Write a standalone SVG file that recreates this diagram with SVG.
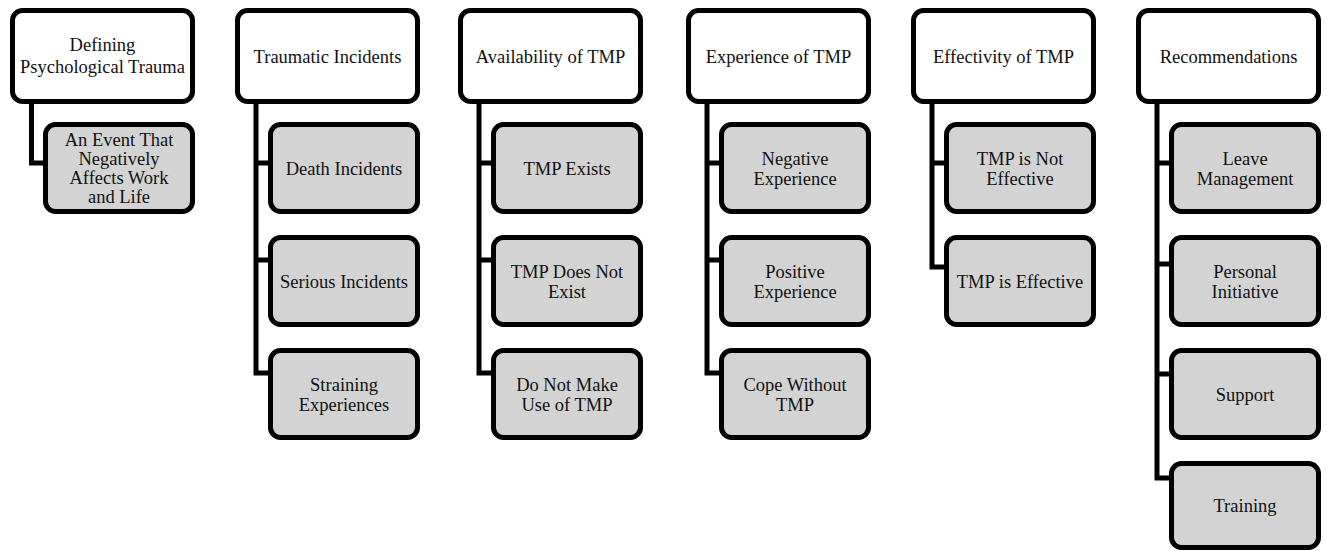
<svg xmlns="http://www.w3.org/2000/svg" width="1327" height="551" viewBox="0 0 1327 551">
<style>
.p{fill:#ffffff;stroke:#000;stroke-width:5}
.c{fill:#d3d3d3;stroke:#000;stroke-width:5}
.k{fill:none;stroke:#000;stroke-width:5;stroke-linejoin:miter;stroke-linecap:butt}
</style>
<rect width="1327" height="551" fill="#fff"/>
<g id="connectors">
<path class="k" d="M31.5,102 V163 H46"/>
<path class="k" d="M256,102 V373 H271 M256,163 H271 M256,260 H271"/>
<path class="k" d="M479,102 V373 H494 M479,163 H494 M479,260 H494"/>
<path class="k" d="M707,102 V373 H722 M707,163 H722 M707,260 H722"/>
<path class="k" d="M932,102 V267 H947 M932,163 H947"/>
<path class="k" d="M1157,102 V478 H1172 M1157,163 H1172 M1157,264 H1172 M1157,374 H1172"/>
</g>
<g font-family="Liberation Serif, Times New Roman, serif" font-size="18.5" fill="#111" text-anchor="middle">
<g id="n1"><rect class="p" x="12.5" y="10.5" width="180" height="91" rx="10"/><text x="102.5" y="51">Defining</text><text x="102.5" y="73">Psychological Trauma</text></g>
<g id="n1a"><rect class="c" x="45.5" y="124.5" width="147" height="87" rx="10"/><text x="119" y="146">An Event That</text><text x="119" y="165">Negatively</text><text x="119" y="184">Affects Work</text><text x="119" y="203">and Life</text></g>

<g id="n2"><rect class="p" x="237.5" y="10.5" width="180" height="91" rx="10"/><text x="327.5" y="63">Traumatic Incidents</text></g>
<g id="n2a"><rect class="c" x="270.5" y="124.5" width="147" height="87" rx="10"/><text x="344" y="175">Death Incidents</text></g>
<g id="n2b"><rect class="c" x="270.5" y="237.5" width="147" height="87" rx="10"/><text x="344" y="288">Serious Incidents</text></g>
<g id="n2c"><rect class="c" x="270.5" y="350.5" width="147" height="87" rx="10"/><text x="344" y="391">Straining</text><text x="344" y="411">Experiences</text></g>

<g id="n3"><rect class="p" x="460.5" y="10.5" width="180" height="91" rx="10"/><text x="550.5" y="63">Availability of TMP</text></g>
<g id="n3a"><rect class="c" x="493.5" y="124.5" width="147" height="87" rx="10"/><text x="567" y="175">TMP Exists</text></g>
<g id="n3b"><rect class="c" x="493.5" y="237.5" width="147" height="87" rx="10"/><text x="567" y="278">TMP Does Not</text><text x="567" y="298">Exist</text></g>
<g id="n3c"><rect class="c" x="493.5" y="350.5" width="147" height="87" rx="10"/><text x="567" y="391">Do Not Make</text><text x="567" y="411">Use of TMP</text></g>

<g id="n4"><rect class="p" x="688.5" y="10.5" width="180" height="91" rx="10"/><text x="778.5" y="63">Experience of TMP</text></g>
<g id="n4a"><rect class="c" x="721.5" y="124.5" width="147" height="87" rx="10"/><text x="795" y="165">Negative</text><text x="795" y="185">Experience</text></g>
<g id="n4b"><rect class="c" x="721.5" y="237.5" width="147" height="87" rx="10"/><text x="795" y="278">Positive</text><text x="795" y="298">Experience</text></g>
<g id="n4c"><rect class="c" x="721.5" y="350.5" width="147" height="87" rx="10"/><text x="795" y="391">Cope Without</text><text x="795" y="411">TMP</text></g>

<g id="n5"><rect class="p" x="913.5" y="10.5" width="180" height="91" rx="10"/><text x="1003.5" y="63">Effectivity of TMP</text></g>
<g id="n5a"><rect class="c" x="946.5" y="124.5" width="147" height="87" rx="10"/><text x="1020" y="165">TMP is Not</text><text x="1020" y="185">Effective</text></g>
<g id="n5b"><rect class="c" x="946.5" y="237.5" width="147" height="87" rx="10"/><text x="1020" y="288">TMP is Effective</text></g>

<g id="n6"><rect class="p" x="1138.5" y="10.5" width="180" height="91" rx="10"/><text x="1228.5" y="63">Recommendations</text></g>
<g id="n6a"><rect class="c" x="1171.5" y="124.5" width="147" height="87" rx="10"/><text x="1245" y="165">Leave</text><text x="1245" y="185">Management</text></g>
<g id="n6b"><rect class="c" x="1171.5" y="237.5" width="147" height="87" rx="10"/><text x="1245" y="278">Personal</text><text x="1245" y="298">Initiative</text></g>
<g id="n6c"><rect class="c" x="1171.5" y="350.5" width="147" height="87" rx="10"/><text x="1245" y="401">Support</text></g>
<g id="n6d"><rect class="c" x="1171.5" y="463.5" width="147" height="84" rx="10"/><text x="1245" y="512">Training</text></g>
</g>
</svg>
